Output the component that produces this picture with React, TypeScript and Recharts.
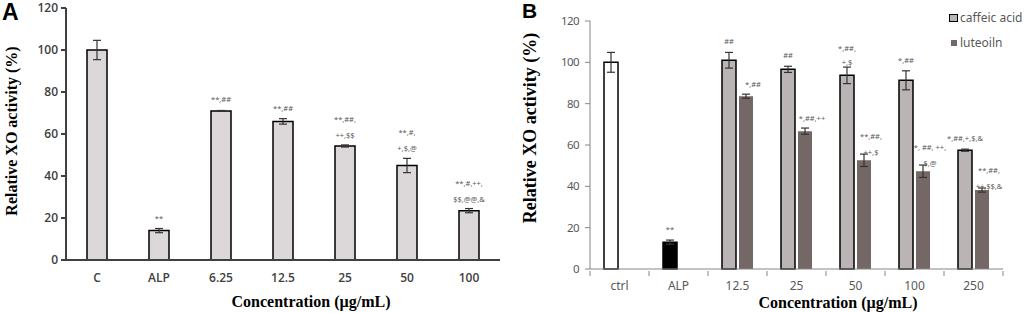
import React from 'react';
import { BarChart, Bar, XAxis, YAxis, ErrorBar, LabelList, Cell } from 'recharts';

// ---------- Panel A data ----------
const catsA = ['C', 'ALP', '6.25', '12.5', '25', '50', '100'];
const valsA = [100, 14, 71, 66, 54.3, 45, 23.5];
const errsA = [4.6, 1, 0.2, 1.3, 0.5, 3.4, 1];
const notesA = ['', '**', '**,##', '**,##', '**,##,\n++,$$', '**,#,\n+,$,@', '**,#,++,\n$$,@@,&'];

// ---------- Panel B data ----------
const catsB = ['ctrl', 'ALP', '12.5', '25', '50', '100', '250'];
const caffeic = [100, 13, 101, 96.6, 93.7, 91.3, 57.5];
const caffeicErr = [4.8, 1, 3.8, 1.5, 4, 4.6, 0.5];
const luteolin: (number | null)[] = [null, null, 83.6, 66.7, 52.6, 47.3, 38.2];
const luteolinErr: (number | null)[] = [null, null, 1, 1.5, 3, 3, 1];
const notesCaffeic = ['', '**', '##', '##', '*,##,\n+,$', '*,##', '*,##,+,$,&'];
const notesLuteolin = ['', '', '*,##', '*,##,++', '**,##,\n++,$', '*, ##, ++,\n$,@', '**,##,\n++,$$,&'];
const legendLabels = ['caffeic acid', 'luteoiln'];
const yTicks = [0, 20, 40, 60, 80, 100, 120];

// styles
const caffeicFills = ['#ffffff', '#000000', '#bab5b4', '#bab5b4', '#bab5b4', '#bab5b4', '#bab5b4'];
const LUT = '#736866';
const CAF = '#bab5b4';

const dataA = catsA.map((name, i) => ({ name, value: valsA[i], err: errsA[i], i }));
const dataB = catsB.map((name, i) => ({
  name,
  caffeic: caffeic[i],
  cErr: caffeicErr[i],
  luteolin: luteolin[i],
  lErr: luteolinErr[i],
  i,
}));

const makeAnnot = (
  vals: (number | null)[],
  errs: (number | null)[],
  notes: string[],
  lineH: number,
  dx: number,
  gap: number,
  k: number
) => (p: any) => {
  const i = Number(p.value);
  const vb = p.viewBox || p;
  const note = notes[i];
  const v = vals[i];
  if (!note || v == null || !vb || !vb.height) return null;
  const scale = vb.height / v;
  const errTop = vb.y - (errs[i] || 0) * scale;
  const lines = note.split('\n');
  const cx = vb.x + vb.width / 2 + dx;
  const first = errTop - gap - (lines.length - 1) * k;
  return (
    <text textAnchor="middle" fontSize={7.5} fill="#595959" fontFamily="'Noto Sans', sans-serif">
      {lines.map((l, j) => (
        <tspan key={j} x={cx} y={first + j * lineH}>
          {l}
        </tspan>
      ))}
    </text>
  );
};

const BW_B = (1003 - 590) / 7;

const TickB = (props: any) => {
  const { x, y, payload, index } = props;
  const half = BW_B / 2;
  return (
    <g>
      <line x1={x - half} x2={x - half} y1={y - 6} y2={y - 1} stroke="#868686" />
      {index === catsB.length - 1 && (
        <line x1={x + half} x2={x + half} y1={y - 6} y2={y - 1} stroke="#868686" />
      )}
      <text x={x} y={y + 13} textAnchor="middle" fontSize={12} fill="#595959" fontFamily="'Noto Sans', sans-serif">
        {payload.value}
      </text>
    </g>
  );
};

const serif = "'Liberation Serif', 'Times New Roman', serif";

export default function App() {
  return (
    <div style={{ position: 'absolute', left: 0, top: 0, width: 1024, height: 313, background: '#fff', overflow: 'hidden' }}>
      {/* Panel A */}
      <div style={{ position: 'absolute', left: 0, top: 0 }}>
        <BarChart width={510} height={313} data={dataA} margin={{ top: 8, right: 10, bottom: 23, left: 6 }} barSize={20}>
          <XAxis
            dataKey="name"
            height={30}
            axisLine={{ stroke: '#404040', strokeWidth: 2 }}
            tickLine={false}
            tickMargin={7}
            tick={{ fontSize: 12, fill: '#404040', fontFamily: "'Open Sans', sans-serif", fontWeight: 600 }}
          />
          <YAxis
            width={60}
            domain={[0, 120]}
            ticks={yTicks}
            interval={0}
            axisLine={{ stroke: '#404040', strokeWidth: 2 }}
            tickLine={{ stroke: '#404040', strokeWidth: 2 }}
            tickSize={5}
            tickMargin={3}
            tick={{ fontSize: 12, fill: '#404040', fontFamily: "'Open Sans', sans-serif", fontWeight: 600 }}
          />
          <Bar dataKey="value" fill="#dcd8d9" stroke="#000" strokeWidth={1.5} isAnimationActive={false}>
            <ErrorBar dataKey="err" width={4} stroke="#333" strokeWidth={1.2} />
            <LabelList dataKey="i" content={makeAnnot(valsA, errsA, notesA, 16, 0, 8, 15)} />
          </Bar>
        </BarChart>
      </div>

      {/* Panel B */}
      <div style={{ position: 'absolute', left: 510, top: 0 }}>
        <BarChart width={514} height={313} data={dataB} margin={{ top: 21, right: 21, bottom: 14, left: 20 }} barSize={14} barGap={3}>
          <XAxis
            dataKey="name"
            height={30}
            axisLine={{ stroke: '#868686' }}
            tickLine={false}
            tick={<TickB />}
            interval={0}
          />
          <YAxis
            width={60}
            domain={[0, 120]}
            ticks={yTicks}
            interval={0}
            axisLine={{ stroke: '#868686' }}
            tickLine={{ stroke: '#868686' }}
            tickSize={5}
            tickMargin={6}
            tick={{ fontSize: 11.5, fill: '#595959', fontFamily: "'Noto Sans', sans-serif", letterSpacing: -0.6 }}
          />
          <Bar dataKey="caffeic" fill={CAF} stroke="#000" strokeWidth={1.5} isAnimationActive={false}>
            {dataB.map((_, i) => (
              <Cell key={i} fill={caffeicFills[i]} />
            ))}
            <ErrorBar dataKey="cErr" width={4} stroke="#333" strokeWidth={1.2} />
            <LabelList dataKey="i" content={makeAnnot(caffeic, caffeicErr, notesCaffeic, 14, 0, 8, 8)} />
          </Bar>
          <Bar dataKey="luteolin" fill={LUT} isAnimationActive={false}>
            <ErrorBar dataKey="lErr" width={4} stroke="#333" strokeWidth={1.2} />
            <LabelList dataKey="i" content={makeAnnot(luteolin, luteolinErr, notesLuteolin, 16, 7, 7, 8)} />
          </Bar>
        </BarChart>
      </div>

      {/* Panel letters */}
      <div style={{ position: 'absolute', left: 2, top: -1, fontFamily: "'Liberation Sans', Arial, sans-serif", fontWeight: 700, fontSize: 23 }}>A</div>
      <div style={{ position: 'absolute', left: 522, top: -1, fontFamily: "'Liberation Sans', Arial, sans-serif", fontWeight: 700, fontSize: 21 }}>B</div>

      {/* Axis titles */}
      <div style={{ position: 'absolute', left: 12, top: 131, transform: 'translate(-50%,-50%) rotate(-90deg)', whiteSpace: 'nowrap', fontFamily: serif, fontWeight: 700, fontSize: 16 }}>
        Relative XO activity (%)
      </div>
      <div style={{ position: 'absolute', left: 311, top: 302, transform: 'translate(-50%,-50%)', whiteSpace: 'nowrap', fontFamily: serif, fontWeight: 700, fontSize: 16 }}>
        Concentration (µg/mL)
      </div>
      <div style={{ position: 'absolute', left: 530, top: 128, transform: 'translate(-50%,-50%) rotate(-90deg)', whiteSpace: 'nowrap', fontFamily: serif, fontWeight: 700, fontSize: 18 }}>
        Relative XO activity (%)
      </div>
      <div style={{ position: 'absolute', left: 838, top: 303, transform: 'translate(-50%,-50%)', whiteSpace: 'nowrap', fontFamily: serif, fontWeight: 700, fontSize: 16 }}>
        Concentration (µg/mL)
      </div>

      {/* Legend B */}
      <div style={{ position: 'absolute', left: 949, top: 10, fontFamily: "'Noto Sans', sans-serif", fontSize: 12, color: '#595959', lineHeight: '16px' }}>
        <div style={{ display: 'flex', alignItems: 'center', height: 16 }}>
          <span style={{ display: 'inline-block', width: 7, height: 6, background: CAF, border: '1.5px solid #000', marginRight: 2 }} />
          {legendLabels[0]}
        </div>
        <div style={{ display: 'flex', alignItems: 'center', height: 16, marginTop: 9, paddingLeft: 2 }}>
          <span style={{ display: 'inline-block', width: 6, height: 6, background: LUT, marginRight: 3 }} />
          {legendLabels[1]}
        </div>
      </div>
    </div>
  );
}
